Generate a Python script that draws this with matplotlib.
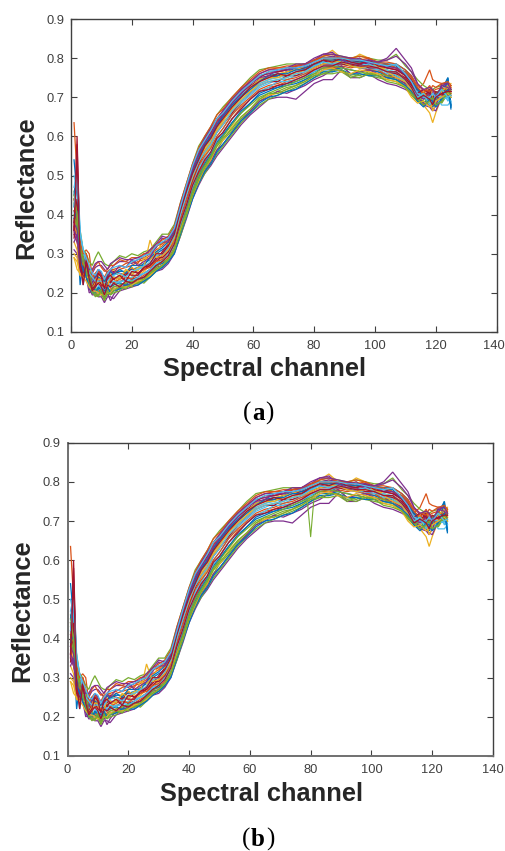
import matplotlib
matplotlib.use("Agg")
import matplotlib.pyplot as plt
from matplotlib.transforms import ScaledTranslation

W, H = 505, 851
CHANNELS = [1,2,3,4,5,6,7,8,9,10,11,12,13,14,
            16,18,20,22,24,26,28,30,32,34,36,38,40,42,44,46,48,50,
            53,56,59,62,65,68,71,74,77,80,83,86,89,92,95,98,101,104,107,110,
            112,114,116,118,119,120,122,124,125]

c01 = [.41,.36,.22,.28,.25,.22,.21,.21,.205,.20,.19,.20,.205,.21,
       .215,.215,.225,.225,.235,.245,.26,.265,.28,.305,.36,.41,.46,.495,.525,.55,.58,.60,
       .635,.665,.685,.71,.72,.725,.735,.74,.75,.765,.775,.775,.785,.785,.775,.785,.78,.785,.775,.765,
       .75,.725,.70,.695,.69,.70,.695,.75,.68]
c02 = [.635,.50,.33,.30,.31,.30,.24,.25,.26,.25,.235,.24,.245,.25,
       .26,.265,.27,.28,.285,.295,.31,.32,.335,.365,.425,.475,.52,.565,.595,.615,.645,.665,
       .695,.72,.74,.755,.76,.765,.77,.775,.775,.785,.795,.80,.795,.795,.79,.785,.775,.755,.765,.75,
       .73,.72,.735,.77,.745,.74,.735,.72,.72]
c03 = [.30,.29,.245,.24,.25,.23,.205,.20,.195,.205,.20,.21,.215,.22,
       .23,.235,.24,.245,.255,.27,.28,.29,.30,.335,.395,.45,.50,.53,.555,.575,.615,.635,
       .66,.69,.71,.735,.745,.755,.755,.765,.77,.785,.805,.82,.80,.795,.81,.80,.775,.75,.745,.735,
       .715,.695,.68,.66,.635,.66,.70,.72,.71]
c04 = [.31,.30,.27,.26,.25,.21,.195,.195,.19,.19,.175,.19,.19,.185,
       .205,.21,.215,.22,.23,.24,.255,.26,.275,.30,.345,.39,.44,.475,.505,.525,.55,.57,
       .60,.63,.655,.675,.695,.70,.70,.695,.715,.735,.745,.745,.77,.75,.75,.76,.745,.735,.73,.72,
       .71,.69,.68,.675,.665,.68,.69,.71,.70]
c05 = [.46,.42,.36,.31,.30,.28,.27,.29,.305,.29,.275,.27,.27,.28,
       .295,.29,.30,.295,.305,.31,.33,.35,.35,.375,.43,.48,.53,.575,.60,.625,.655,.675,
       .70,.725,.75,.77,.775,.78,.785,.785,.785,.79,.805,.81,.805,.80,.805,.80,.795,.795,.81,.78,
       .765,.745,.73,.72,.72,.725,.73,.735,.73]
c06 = [.38,.53,.36,.30,.27,.25,.23,.22,.24,.225,.215,.225,.235,.24,
       .24,.245,.25,.26,.265,.28,.29,.30,.31,.34,.40,.45,.495,.54,.565,.59,.62,.64,
       .67,.70,.72,.735,.745,.75,.755,.765,.77,.78,.785,.79,.795,.79,.785,.78,.78,.77,.765,.745,
       .73,.71,.705,.69,.70,.71,.725,.69,.70]
c07 = [.36,.60,.30,.24,.29,.25,.22,.225,.24,.235,.20,.225,.23,.235,
       .225,.24,.235,.24,.25,.26,.28,.295,.31,.345,.41,.465,.51,.55,.58,.60,.63,.655,
       .685,.71,.73,.745,.755,.755,.765,.77,.775,.785,.79,.795,.80,.795,.79,.785,.785,.775,.77,.76,
       .745,.715,.71,.705,.70,.71,.715,.71,.71]
c08 = [.54,.45,.33,.28,.27,.24,.235,.235,.25,.24,.22,.235,.24,.25,
       .255,.255,.26,.265,.275,.285,.30,.31,.32,.345,.40,.455,.505,.55,.58,.60,.63,.65,
       .68,.705,.725,.745,.75,.755,.765,.775,.775,.785,.79,.785,.80,.80,.795,.79,.79,.785,.785,.77,
       .755,.72,.705,.715,.70,.695,.72,.75,.675]
c09 = [.35,.33,.28,.26,.27,.235,.21,.205,.21,.20,.195,.205,.21,.215,
       .22,.225,.23,.235,.245,.255,.27,.275,.29,.315,.37,.42,.47,.505,.535,.56,.59,.61,
       .645,.675,.695,.715,.725,.73,.74,.745,.755,.77,.78,.78,.785,.78,.775,.77,.765,.76,.755,.745,
       .735,.70,.69,.68,.70,.695,.70,.72,.715]
c10 = [.33,.31,.26,.25,.28,.245,.225,.215,.23,.22,.21,.22,.24,.225,
       .245,.25,.245,.26,.27,.275,.295,.30,.32,.35,.41,.46,.505,.54,.57,.595,.625,.645,
       .675,.70,.725,.745,.755,.76,.765,.77,.78,.79,.80,.805,.79,.785,.80,.79,.785,.765,.755,.74,
       .725,.71,.70,.70,.68,.70,.73,.74,.725]
c11 = [.35,.33,.30,.27,.26,.24,.25,.265,.27,.27,.26,.25,.26,.27,
       .28,.28,.275,.285,.29,.30,.315,.34,.335,.36,.42,.47,.52,.56,.585,.61,.64,.66,
       .69,.715,.735,.755,.76,.765,.77,.78,.78,.79,.80,.805,.80,.795,.80,.785,.79,.80,.825,.795,
       .775,.735,.715,.72,.71,.69,.735,.735,.72]
c12 = [.43,.38,.30,.27,.24,.22,.20,.195,.195,.195,.185,.195,.20,.205,
       .21,.215,.22,.225,.23,.245,.26,.265,.28,.31,.355,.405,.455,.49,.515,.54,.565,.59,
       .615,.645,.665,.69,.705,.715,.725,.73,.745,.76,.765,.765,.78,.76,.755,.765,.755,.75,.745,.73,
       .715,.695,.69,.685,.675,.69,.695,.70,.71]
c13 = [.44,.40,.33,.29,.27,.23,.21,.225,.22,.21,.20,.215,.22,.225,
       .23,.23,.24,.245,.25,.26,.275,.285,.295,.32,.38,.43,.48,.52,.545,.57,.60,.62,
       .655,.685,.705,.725,.735,.745,.745,.755,.76,.775,.785,.785,.795,.785,.78,.775,.77,.76,.76,.745,
       .72,.69,.70,.71,.69,.70,.68,.68,.69]
c14 = [.34,.42,.28,.31,.26,.255,.215,.24,.255,.245,.225,.25,.235,.255,
       .25,.245,.265,.25,.26,.27,.285,.305,.325,.355,.415,.47,.515,.555,.59,.61,.64,.66,
       .69,.715,.735,.75,.765,.765,.77,.78,.785,.795,.80,.80,.80,.795,.79,.79,.785,.78,.775,.755,
       .74,.72,.695,.715,.72,.71,.72,.715,.72]
c15 = [.42,.48,.30,.29,.26,.23,.215,.205,.21,.215,.205,.225,.215,.22,
       .225,.22,.235,.235,.24,.25,.27,.275,.285,.31,.365,.415,.465,.50,.53,.555,.585,.605,
       .635,.66,.685,.705,.715,.725,.73,.735,.745,.755,.77,.77,.775,.77,.765,.77,.765,.755,.755,.74,
       .72,.70,.685,.70,.675,.695,.71,.73,.68]
c16 = [.37,.34,.29,.27,.28,.24,.22,.22,.225,.23,.215,.22,.23,.225,
       .235,.24,.235,.25,.26,.265,.28,.285,.30,.33,.385,.435,.485,.525,.55,.57,.60,.62,
       .655,.68,.70,.72,.73,.735,.745,.75,.76,.77,.775,.775,.78,.775,.78,.77,.77,.755,.75,.735,
       .715,.705,.715,.70,.685,.705,.72,.71,.725]
c17 = [.39,.35,.27,.245,.26,.25,.22,.235,.245,.225,.225,.24,.25,.26,
       .24,.255,.265,.255,.29,.285,.30,.33,.325,.35,.405,.455,.50,.545,.565,.585,.62,.64,
       .67,.695,.715,.74,.75,.75,.76,.76,.77,.78,.795,.795,.79,.78,.79,.795,.78,.77,.76,.74,
       .71,.695,.715,.725,.70,.715,.70,.725,.735]
c18 = [.33,.35,.25,.27,.24,.20,.205,.20,.20,.195,.19,.20,.18,.195,
       .215,.22,.225,.23,.24,.25,.265,.27,.28,.31,.35,.40,.45,.485,.51,.535,.565,.58,
       .61,.64,.665,.69,.70,.715,.71,.72,.73,.745,.755,.77,.78,.76,.765,.77,.76,.75,.75,.735,
       .725,.70,.685,.68,.67,.665,.70,.70,.715]
c19 = [.40,.37,.31,.28,.25,.225,.205,.19,.195,.20,.18,.20,.195,.20,
       .205,.22,.215,.23,.225,.24,.255,.27,.28,.305,.345,.395,.445,.48,.505,.53,.555,.575,
       .605,.635,.66,.68,.695,.705,.715,.725,.735,.75,.76,.76,.765,.75,.76,.755,.75,.745,.74,.725,
       .705,.69,.70,.68,.69,.70,.685,.71,.70]
c20 = [.50,.46,.34,.30,.28,.235,.225,.215,.215,.215,.21,.21,.225,.23,
       .225,.235,.23,.24,.25,.255,.275,.28,.30,.325,.375,.425,.47,.515,.54,.56,.59,.61,
       .645,.67,.695,.715,.725,.74,.74,.745,.755,.765,.78,.78,.785,.78,.775,.775,.77,.77,.755,.74,
       .72,.715,.695,.70,.71,.685,.695,.70,.685]
c21 = [.38,.44,.26,.25,.30,.24,.215,.23,.235,.22,.215,.245,.225,.24,
       .235,.25,.245,.245,.265,.27,.29,.29,.305,.34,.395,.445,.49,.53,.56,.58,.61,.63,
       .66,.69,.71,.73,.74,.74,.755,.755,.765,.775,.785,.785,.785,.78,.785,.775,.775,.765,.76,.75,
       .73,.705,.70,.72,.69,.70,.71,.705,.715]
c22 = [.45,.52,.31,.22,.27,.25,.225,.245,.24,.235,.23,.24,.255,.245,
       .26,.25,.27,.27,.27,.29,.305,.315,.33,.355,.41,.46,.51,.545,.575,.60,.625,.65,
       .68,.70,.72,.74,.755,.76,.76,.77,.77,.78,.795,.795,.795,.79,.79,.795,.785,.78,.78,.755,
       .74,.72,.70,.70,.68,.71,.69,.745,.67]
c23 = [.41,.39,.32,.29,.30,.26,.235,.25,.255,.24,.24,.255,.26,.26,
       .265,.275,.28,.275,.30,.30,.32,.325,.34,.36,.42,.47,.525,.56,.59,.615,.64,.665,
       .69,.72,.74,.76,.77,.775,.775,.78,.785,.795,.80,.80,.80,.80,.795,.80,.785,.785,.775,.765,
       .75,.725,.71,.73,.715,.72,.725,.715,.73]
c24 = [.29,.28,.245,.245,.24,.24,.21,.225,.235,.235,.22,.215,.245,.24,
       .235,.26,.25,.265,.265,.335,.29,.295,.31,.34,.40,.45,.495,.535,.56,.58,.615,.63,
       .665,.69,.715,.73,.74,.745,.75,.76,.765,.775,.785,.79,.79,.78,.775,.78,.78,.765,.75,.74,
       .72,.70,.71,.695,.665,.68,.715,.73,.71]
c25 = [.38,.36,.28,.26,.27,.25,.225,.24,.26,.25,.24,.235,.26,.25,
       .27,.265,.285,.27,.28,.29,.32,.33,.33,.36,.415,.47,.515,.555,.585,.605,.635,.655,
       .685,.71,.735,.75,.755,.77,.77,.775,.78,.795,.81,.815,.795,.785,.785,.79,.785,.775,.775,.76,
       .74,.705,.695,.71,.69,.675,.73,.725,.715]
c26 = [.44,.39,.33,.29,.26,.265,.21,.215,.20,.205,.195,.21,.205,.215,
       .22,.225,.23,.225,.235,.25,.265,.28,.285,.315,.365,.41,.46,.50,.525,.55,.58,.60,
       .63,.66,.68,.70,.71,.72,.73,.74,.75,.76,.775,.78,.775,.77,.765,.76,.76,.755,.745,.725,
       .71,.70,.705,.695,.70,.71,.72,.70,.72]
c27 = [.47,.51,.35,.31,.275,.25,.24,.23,.23,.23,.225,.23,.24,.245,
       .25,.24,.255,.26,.27,.275,.295,.30,.315,.345,.40,.45,.50,.535,.56,.58,.61,.63,
       .665,.69,.71,.73,.74,.745,.75,.76,.765,.78,.79,.785,.79,.785,.78,.785,.775,.765,.765,.745,
       .725,.70,.71,.68,.695,.705,.70,.695,.69]
c28 = [.355,.58,.29,.23,.285,.24,.21,.22,.25,.24,.21,.24,.245,.235,
       .245,.23,.255,.25,.265,.275,.30,.30,.32,.35,.41,.46,.505,.54,.575,.595,.625,.645,
       .675,.70,.725,.74,.75,.76,.755,.765,.77,.785,.795,.79,.80,.79,.785,.795,.78,.775,.77,.755,
       .735,.71,.72,.71,.695,.715,.705,.72,.705]
c29 = [.39,.41,.28,.26,.24,.215,.20,.20,.215,.205,.195,.215,.20,.205,
       .21,.22,.22,.22,.23,.24,.255,.265,.28,.30,.35,.395,.44,.48,.51,.53,.56,.58,
       .61,.64,.66,.685,.70,.705,.715,.72,.735,.75,.765,.765,.77,.76,.76,.755,.755,.75,.745,.73,
       .715,.69,.675,.695,.69,.675,.695,.72,.675]
c30 = [.44,.40,.33,.30,.30,.27,.255,.27,.28,.265,.255,.26,.27,.27,
       .285,.28,.29,.29,.30,.305,.325,.335,.345,.37,.43,.48,.53,.57,.60,.625,.655,.67,
       .70,.725,.745,.765,.775,.775,.78,.78,.785,.795,.805,.81,.80,.80,.805,.80,.79,.79,.785,.77,
       .755,.73,.72,.715,.73,.725,.735,.74,.73]
c31 = [.29,.26,.25,.24,.23,.215,.205,.205,.20,.195,.195,.20,.20,.21,
       .215,.215,.22,.23,.235,.245,.26,.27,.285,.31,.36,.40,.45,.485,.52,.54,.575,.59,
       .625,.65,.67,.695,.705,.71,.72,.73,.74,.755,.77,.775,.765,.76,.77,.765,.76,.745,.74,.725,
       .70,.685,.69,.675,.68,.69,.70,.71,.70]
c32 = [.36,.34,.30,.28,.27,.26,.26,.275,.28,.28,.27,.26,.275,.28,
       .29,.285,.285,.29,.295,.31,.325,.345,.34,.365,.425,.475,.525,.565,.595,.62,.645,.665,
       .695,.72,.74,.76,.77,.77,.775,.785,.785,.80,.81,.81,.805,.80,.795,.795,.79,.795,.805,.785,
       .765,.735,.72,.725,.72,.70,.73,.735,.72]
c33 = [.45,.40,.31,.28,.255,.24,.20,.20,.19,.21,.185,.205,.195,.205,
       .215,.21,.225,.235,.235,.25,.26,.27,.285,.31,.355,.40,.45,.49,.52,.545,.575,.595,
       .62,.65,.67,.695,.71,.71,.72,.73,.74,.755,.76,.77,.77,.755,.75,.76,.755,.74,.735,.725,
       .71,.695,.68,.69,.70,.68,.69,.715,.705]
c34 = [.42,.50,.35,.31,.29,.27,.25,.245,.26,.255,.235,.25,.26,.265,
       .27,.265,.28,.285,.295,.30,.32,.33,.34,.365,.42,.475,.525,.565,.59,.615,.645,.66,
       .69,.715,.735,.755,.765,.77,.775,.775,.78,.79,.80,.80,.80,.795,.795,.79,.785,.78,.785,.76,
       .74,.71,.70,.70,.71,.70,.72,.70,.705]
c35 = [.36,.55,.28,.22,.28,.235,.205,.215,.225,.215,.195,.22,.215,.225,
       .215,.23,.225,.235,.24,.255,.27,.28,.295,.325,.38,.425,.475,.51,.54,.56,.595,.61,
       .645,.67,.695,.715,.72,.73,.735,.745,.755,.77,.78,.78,.79,.785,.78,.78,.775,.765,.765,.745,
       .725,.695,.705,.695,.68,.70,.71,.715,.715]
CURVES = [c01, c02, c03, c04, c05, c06, c07, c08, c09, c10, c11, c12, c13, c14,
          c15, c16, c17, c18, c19, c20, c21, c22, c23, c24, c25, c26, c27, c28,
          c29, c30, c31, c32, c33, c34, c35]
COLORS = ["#0072BD", "#D95319", "#EDB120", "#7E2F8E", "#77AC30", "#4DBEEE", "#A2142F"]

SPIKE_CHANNELS = [79, 80, 81]
SPIKE_VALUES = [.745, .66, .75]

XTICKS = [0, 20, 40, 60, 80, 100, 120, 140]
YTICKS = [.1, .2, .3, .4, .5, .6, .7, .8, .9]
YTICK_LABELS = ["0.1", "0.2", "0.3", "0.4", "0.5", "0.6", "0.7", "0.8", "0.9"]
XLABEL = "Spectral channel"
YLABEL = "Reflectance"

plt.rcParams["font.family"] = ["Liberation Sans", "DejaVu Sans"]
fig = plt.figure(figsize=(W / 100, H / 100), dpi=100)


def panel(left, right, top, bottom, spike, ylab_x, ylab_y, xlab_x, xlab_y, end_shift, left_style):
    ax = fig.add_axes([left / W, 1 - bottom / H, (right - left) / W, (bottom - top) / H])
    for i, c in enumerate(CURVES):
        ax.plot(CHANNELS, c, color=COLORS[i % 7], lw=0.9, solid_joinstyle="miter")
    if spike:
        ax.plot(SPIKE_CHANNELS, SPIKE_VALUES, color=COLORS[4], lw=0.8)
    ax.set_xlim(0, 140)
    ax.set_ylim(.1, .9)
    ax.set_xticks(XTICKS)
    ax.set_yticks(YTICKS)
    ax.set_yticklabels(YTICK_LABELS)
    ax.tick_params(direction="in", length=4, width=0.8, top=True, right=True,
                   labelsize=9.3, colors="#404040")
    ax.tick_params(axis="x", pad=6)
    ax.tick_params(axis="y", pad=5)
    for s in ax.spines.values():
        s.set_color("#404040")
        s.set_linewidth(1.0)
    ax.spines["left"].set_color(left_style[0])
    ax.spines["left"].set_linewidth(left_style[1])
    ax.spines["bottom"].set_color(left_style[0])
    ax.spines["bottom"].set_linewidth(left_style[1])
    if end_shift:
        lab = ax.get_xticklabels()[-1]
        lab.set_transform(lab.get_transform() + ScaledTranslation(end_shift / 100, 0, fig.dpi_scale_trans))
    fig.text(xlab_x / W, 1 - xlab_y / H, XLABEL, ha="center", va="center",
             fontsize=18.3, fontweight="bold", color="#262626")
    fig.text(ylab_x / W, 1 - ylab_y / H, YLABEL, ha="center", va="center",
             rotation=90, fontsize=18.3, fontweight="bold", color="#262626")


panel(71, 496.5, 19, 332, False, 26, 188, 264.5, 369, -3, ("#404040", 1.0))
panel(67.5, 493, 442.7, 756, True, 22, 611, 261, 794, 0, ("#707070", 1.4))


def caption(letter, y, x0, x1, x2):
    serif = ["Liberation Serif", "DejaVu Serif"]
    fig.text(x0 / W, 1 - y / H, "(", ha="left", va="center", family=serif, fontsize=18)
    fig.text(x1 / W, 1 - y / H, letter, ha="left", va="center", family=serif,
             fontsize=18, fontweight="bold")
    fig.text(x2 / W, 1 - y / H, ")", ha="left", va="center", family=serif, fontsize=18)


caption("a", 413, 243, 252, 265)
caption("b", 839, 242, 251, 266)

fig.savefig("out.png", dpi=100)
